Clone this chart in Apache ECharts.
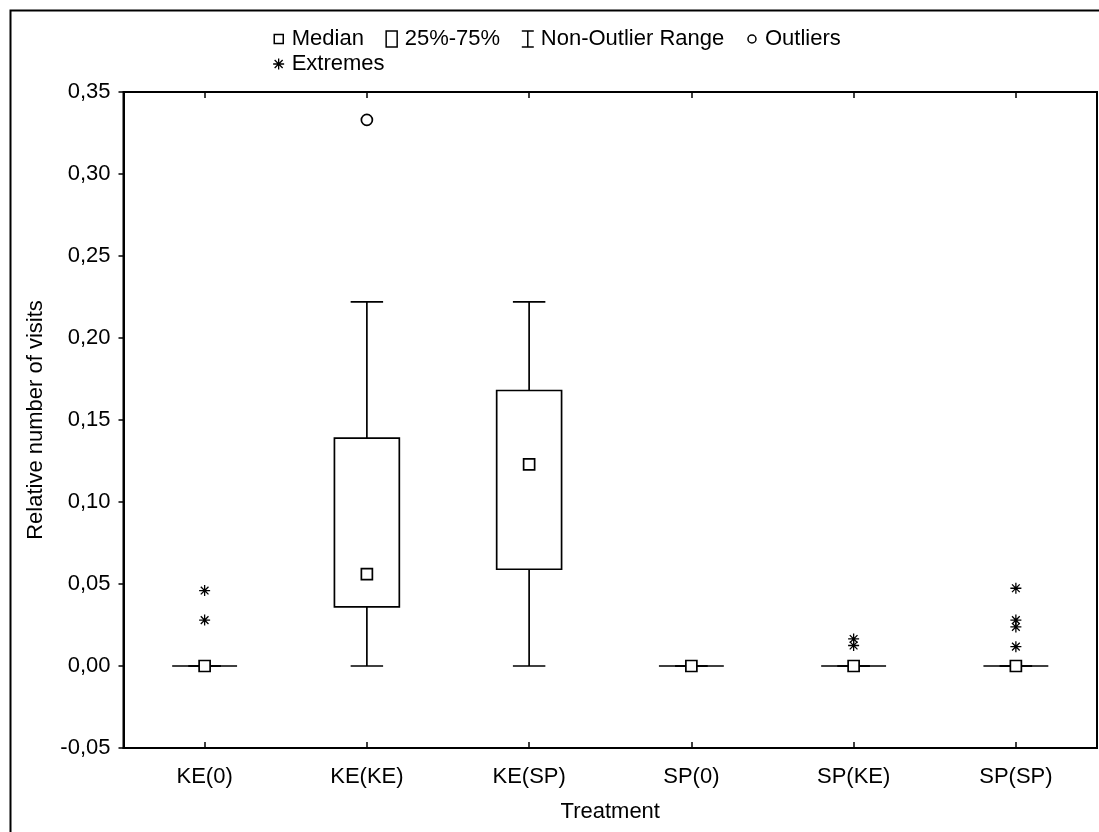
<!DOCTYPE html>
<html>
<head>
<meta charset="utf-8">
<script src="https://cdn.jsdelivr.net/npm/echarts@6/dist/echarts.min.js"></script>
<style>
html,body{margin:0;padding:0;background:#fff;}
#chart{width:1099px;height:832px;}
</style>
</head>
<body>
<div id="chart"></div>
<script>
var categories = ['KE(0)', 'KE(KE)', 'KE(SP)', 'SP(0)', 'SP(KE)', 'SP(SP)'];
var whiskerLow = [0, 0, 0, 0, 0, 0];
var q1 = [0, 0.036, 0.059, 0, 0, 0];
var medians = [0, 0.056, 0.123, 0, 0, 0];
var q3 = [0, 0.139, 0.168, 0, 0, 0];
var whiskerHigh = [0, 0.222, 0.222, 0, 0, 0];
var outliers = [['KE(KE)', 0.333]];
var extremes = [
  ['KE(0)', 0.046], ['KE(0)', 0.028],
  ['SP(KE)', 0.0165], ['SP(KE)', 0.0125],
  ['SP(SP)', 0.0474], ['SP(SP)', 0.028], ['SP(SP)', 0.0238], ['SP(SP)', 0.0118]
];
var yTicks = { min: -0.05, max: 0.35, interval: 0.05 };

var FONT = 'Liberation Sans, Arial, sans-serif';
var FS = 22;
var boxData = categories.map(function (c, i) { return [i, whiskerLow[i], whiskerHigh[i], q1[i], q3[i]]; });
var medianData = categories.map(function (c, i) { return [c, medians[i]]; });

var asteriskIcon = 'path://M0 0M16 18M8 3.5V14.5M2.5 9H13.5M4 5L12 13M12 5L4 13';
var asteriskSym = 'path://M5 0V10M0 5H10M1.5 1.5L8.5 8.5M8.5 1.5L1.5 8.5';

function renderWhisker(params, api) {
  var x = api.value(0);
  var lo = api.coord([x, api.value(1)]);
  var hi = api.coord([x, api.value(2)]);
  var b1 = api.coord([x, api.value(3)]);
  var b3 = api.coord([x, api.value(4)]);
  var cap = api.size([1, 0])[0] * 0.2 / 2;
  var st = { stroke: '#000', lineWidth: 1.7, fill: null };
  return {
    type: 'group',
    children: [
      { type: 'line', shape: { x1: lo[0], y1: lo[1], x2: b1[0], y2: b1[1] }, style: st },
      { type: 'line', shape: { x1: hi[0], y1: hi[1], x2: b3[0], y2: b3[1] }, style: st },
      { type: 'line', shape: { x1: lo[0] - cap, y1: lo[1], x2: lo[0] + cap, y2: lo[1] }, style: st },
      { type: 'line', shape: { x1: hi[0] - cap, y1: hi[1], x2: hi[0] + cap, y2: hi[1] }, style: st }
    ]
  };
}
function renderBox(params, api) {
  var x = api.value(0);
  var b1 = api.coord([x, api.value(3)]);
  var b3 = api.coord([x, api.value(4)]);
  var hw = api.size([1, 0])[0] * 0.4 / 2;
  var st = { stroke: '#000', lineWidth: 1.7, fill: '#fff' };
  return {
    type: 'polygon',
    shape: { points: [[b1[0] - hw, b1[1]], [b1[0] + hw, b1[1]], [b3[0] + hw, b3[1]], [b3[0] - hw, b3[1]]] },
    style: st
  };
}

var legendText = { fontSize: FS, color: '#000', fontFamily: FONT };
var chart = echarts.init(document.getElementById('chart'));
chart.setOption({
  animation: false,
  backgroundColor: '#fff',
  textStyle: { fontFamily: FONT },
  graphic: [{
    type: 'rect', left: 8, top: 8, silent: true,
    shape: { x: 0, y: 0, width: 1200, height: 1000 },
    style: { fill: null, stroke: '#000', lineWidth: 2 }
  }],
  legend: [{
    left: 265, top: 23, width: 700,
    itemWidth: 16, itemHeight: 18, itemGap: 19,
    textStyle: legendText,
    data: [
      { name: 'Median', icon: 'path://M0 0M16 18M3.5 4.5H12.5V13.5H3.5Z', itemStyle: { color: '#fff', borderColor: '#000', borderWidth: 1.5 } },
      { name: '25%-75%', icon: 'path://M0 0M16 18M2.5 1H13.5V17H2.5Z', itemStyle: { color: '#fff', borderColor: '#000', borderWidth: 1.5 } },
      { name: 'Non-Outlier Range', icon: 'path://M0 0M16 18M2 1H14M8 1V17M2 17H14', itemStyle: { color: 'transparent', borderColor: '#000', borderWidth: 1.5 } },
      { name: 'Outliers', icon: 'path://M0 0M16 18M12 9A4 4 0 1 1 4 9A4 4 0 1 1 12 9Z', itemStyle: { color: '#fff', borderColor: '#000', borderWidth: 1.5 } }
    ]
  }, {
    left: 265, top: 48, width: 300,
    itemWidth: 16, itemHeight: 18, itemGap: 19,
    textStyle: legendText,
    data: [
      { name: 'Extremes', icon: asteriskIcon, itemStyle: { color: 'transparent', borderColor: '#000', borderWidth: 1.3 } }
    ]
  }],
  grid: { left: 123.5, right: 2, top: 92, bottom: 84, show: true, borderColor: '#000', borderWidth: 2, containLabel: false },
  xAxis: [{
    type: 'category', data: categories, position: 'bottom',
    boundaryGap: true,
    name: 'Treatment', nameLocation: 'middle', nameGap: 53,
    nameTextStyle: { fontSize: FS, color: '#000', fontFamily: FONT },
    axisLine: { show: true, onZero: false, lineStyle: { color: '#000', width: 2 } },
    axisTick: { show: true, alignWithLabel: true, inside: true, length: 6, lineStyle: { color: '#000', width: 1.5 } },
    axisLabel: { fontSize: FS, color: '#000', margin: 18, fontFamily: FONT },
    splitLine: { show: false }
  }, {
    type: 'category', data: categories, position: 'top', boundaryGap: true,
    axisLine: { show: false, onZero: false },
    axisTick: { show: true, alignWithLabel: true, inside: true, length: 6, lineStyle: { color: '#000', width: 1.5 } },
    axisLabel: { show: false }, splitLine: { show: false }
  }],
  yAxis: {
    type: 'value', min: yTicks.min, max: yTicks.max, interval: yTicks.interval,
    name: 'Relative number of visits', nameLocation: 'middle', nameGap: 77,
    nameTextStyle: { fontSize: FS, color: '#000', fontFamily: FONT },
    axisLine: { show: true, onZero: false, lineStyle: { color: '#000', width: 2 } },
    axisTick: { show: true, inside: false, length: 5, lineStyle: { color: '#000', width: 1.5 } },
    axisLabel: {
      fontSize: FS, color: '#000', margin: 13, fontFamily: FONT,
      formatter: function (v) { return (Math.round(v * 100) / 100).toFixed(2).replace('.', ','); }
    },
    splitLine: { show: false }
  },
  series: [
    { name: 'Non-Outlier Range', type: 'custom', renderItem: renderWhisker, data: boxData, encode: { x: 0, y: [1, 2, 3, 4] }, z: 2, itemStyle: { color: 'transparent', borderColor: '#000' } },
    { name: '25%-75%', type: 'custom', renderItem: renderBox, data: boxData, encode: { x: 0, y: [1, 2, 3, 4] }, z: 3, itemStyle: { color: '#fff', borderColor: '#000' } },
    { name: 'Median', type: 'scatter', data: medianData, symbol: 'rect', symbolSize: 11, z: 5,
      itemStyle: { color: '#fff', borderColor: '#000', borderWidth: 1.7, opacity: 1 } },
    { name: 'Outliers', type: 'scatter', data: outliers, symbol: 'circle', symbolSize: 11, z: 5,
      itemStyle: { color: '#fff', borderColor: '#000', borderWidth: 1.7, opacity: 1 } },
    { name: 'Extremes', type: 'scatter', data: extremes, symbol: asteriskSym, symbolSize: 11, z: 5,
      itemStyle: { color: 'transparent', borderColor: '#000', borderWidth: 1.3, opacity: 1 } }
  ]
});
</script>
</body>
</html>
